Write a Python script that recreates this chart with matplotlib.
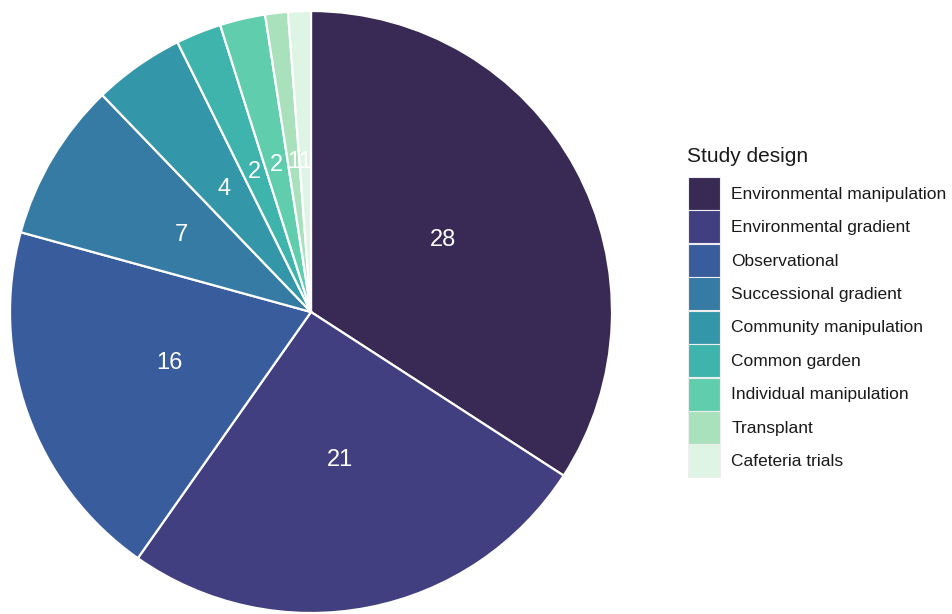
import numpy as np
import seaborn as sns
from matplotlib import pyplot as plt

designs = ['Environmental manipulation', 'Environmental gradient', 'Observational',
           'Successional gradient', 'Community manipulation', 'Common garden',
           'Individual manipulation', 'Transplant', 'Cafeteria trials']
counts = [28, 21, 16, 7, 4, 2, 2, 1, 1]

cmap = sns.color_palette('mako', as_cmap=True)
colors = [cmap(v) for v in np.linspace(0.2, 1.0, len(counts))]

plt.rcParams['font.family'] = ['Liberation Sans', 'DejaVu Sans']

fig = plt.figure(figsize=(9.53, 6.14), dpi=100)
ax = fig.add_axes([10 / 953, 1 / 614, 602 / 953, 602 / 614])

wedges, texts = ax.pie(counts, colors=colors, startangle=90, counterclock=False,
                       labels=[str(c) for c in counts], labeldistance=0.5,
                       wedgeprops=dict(edgecolor='white', linewidth=1.6),
                       textprops=dict(color='white', fontsize=17, ha='center', va='center'))
ax.set_xlim(-1, 1)
ax.set_ylim(-1, 1)
ax.set_aspect('equal')

# legend title drawn separately so its gap to the keys can be matched
fig.text(687 / 953, 1 - 157 / 614, 'Study design', fontsize=15, color='#1a1a1a',
         ha='left', va='center')
leg = fig.legend(wedges, designs, loc='upper left',
                 bbox_to_anchor=(688 / 953, 1 - 177 / 614), frameon=False,
                 fontsize=12.5, handlelength=1.84, handleheight=2.54,
                 labelspacing=0.03, handletextpad=0.65, borderpad=0, borderaxespad=0)
for h in leg.legend_handles:
    h.set_edgecolor('#eeeeee')
    h.set_linewidth(0.8)
for t in leg.get_texts():
    t.set_color('#1a1a1a')

fig.savefig('out.png', dpi=100)
